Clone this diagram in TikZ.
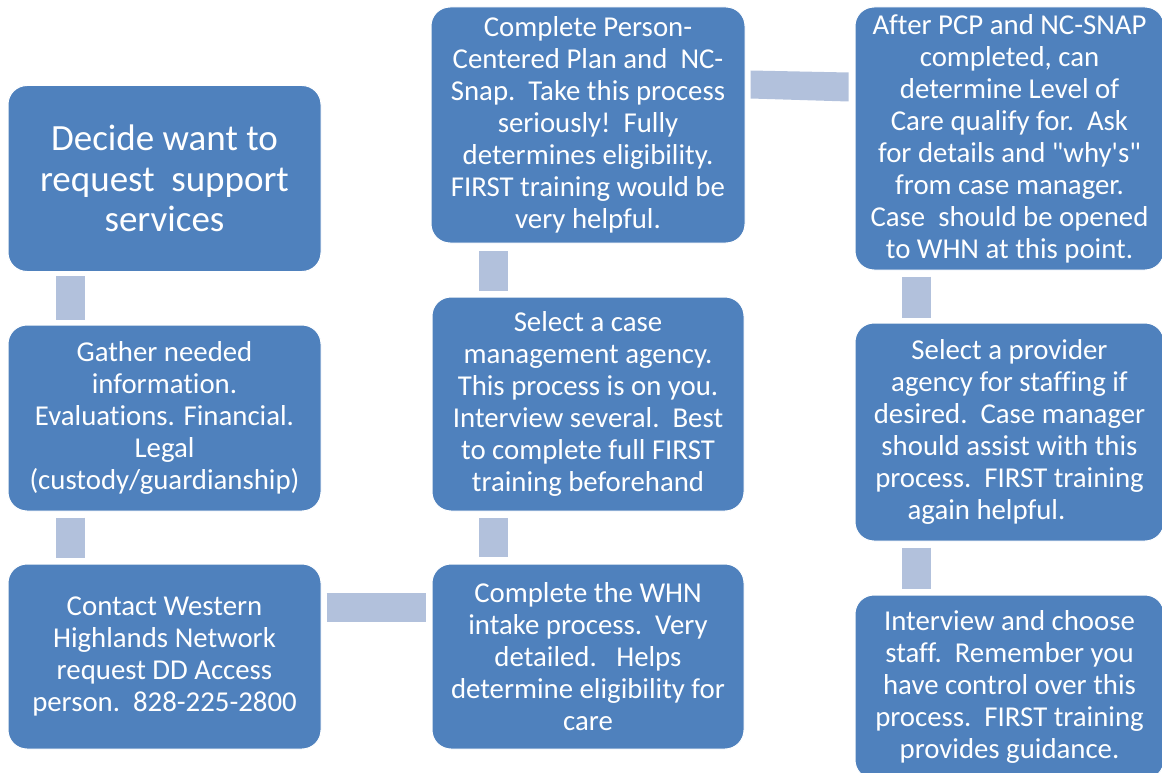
\documentclass[tikz,border=0pt]{standalone}
\usepackage{fontspec}
\setmainfont{Carlito}[Ligatures={TeXOff,NoCommon}]
\usetikzlibrary{calc}
\definecolor{boxblue}{RGB}{79,129,189}
\definecolor{barblue}{RGB}{178,193,220}
\tikzset{
  flowbox/.style={rectangle, rounded corners=19pt, fill=boxblue, draw=white, line width=1pt,
    text=white, align=center, inner sep=0pt, minimum width=313pt,
    font=\fontsize{28.8}{32}\selectfont},
  bigtext/.style={font=\fontsize{37}{40.6}\selectfont},
  bar/.style={draw=barblue, line width=29pt, line cap=butt},
  barfill/.style={fill=barblue}
}
\begin{document}
\begin{tikzpicture}[x=1pt,y=-1pt]
\useasboundingbox (0,0) rectangle (1162,773);
\clip (0,0) rectangle (1162,773);
% boxes
\node[flowbox, bigtext, minimum height=186pt] (a) at (164.5,178.5) {Decide want to\\request\ \ support\\services};
\node[flowbox, minimum height=186pt] (b) at (164.5,418) {Gather needed\\information.\\Evaluations. Financial.\\Legal\\(custody/guardianship)};
\node[flowbox, minimum height=185pt] (c) at (164.5,656.5) {Contact Western\\Highlands Network\\request DD Access\\person.\ \ 828-225-2800};
\node[flowbox, minimum width=312pt, minimum height=185pt] (d) at (588,656.5) {Complete the WHN\\intake process.\ \ Very\\detailed.\ \ \ Helps\\determine eligibility for\\care};
\node[flowbox, minimum width=312pt, minimum height=214pt] (e) at (588,404) {Select a case\\management agency.\\This process is on you.\\Interview several.\ \ Best\\to complete full FIRST\\training beforehand};
\node[flowbox, minimum width=314pt, minimum height=236pt] (f) at (588,125) {Complete Person-\\Centered Plan and\ \ NC-\\Snap.\ \ Take this process\\seriously!\ \ Fully\\determines eligibility.\\FIRST training would be\\very helpful.};
\node[flowbox, minimum width=309pt, minimum height=263pt] (g) at (1009.5,138.5) {After PCP and NC-SNAP\\completed, can\\determine Level of\\Care qualify for.\ \ Ask\\for details and "why's"\\from case manager.\\Case\ \ should be opened\\to WHN at this point.};
\node[flowbox, minimum width=309pt, minimum height=218pt] (h) at (1009.5,432) {Select a provider\\agency for staffing if\\desired.\ \ Case manager\\should assist with this\\process.\ \ FIRST training\\again helpful.\hspace*{46pt}};
\node[flowbox, minimum width=309pt, minimum height=184pt] (i) at (1009.5,687) {Interview and choose\\staff.\ \ Remember you\\have control over this\\process.\ \ FIRST training\\provides guidance.};
% connectors
\draw[bar] ($(a.south west)+(62.5,4)$) -- ($(b.north west)+(62.5,-5)$);
\draw[bar] ($(b.south west)+(62.5,6)$) -- ($(c.north west)+(62.5,-6)$);
\draw[bar] ($(c.north east)+(5,44)$) -- ($(d.north west)+(-6,44)$);
\draw[bar] ($(d.north west)+(61.5,-7)$) -- ($(e.south west)+(61.5,6)$);
\draw[bar] ($(e.north west)+(61.5,-6)$) -- ($(f.south west)+(62.5,7)$);
\fill[barfill] ($(f.north east)+(5,64)$) -- ($(g.north west)+(-6,66)$) -- ($(g.north west)+(-6,95)$) -- ($(f.north east)+(5,92)$) -- cycle;
\draw[bar] ($(g.south west)+(61.5,6)$) -- ($(h.north west)+(61.5,-5)$);
\draw[bar] ($(h.south west)+(61.5,6)$) -- ($(i.north west)+(61.5,-6)$);
\end{tikzpicture}
\end{document}
